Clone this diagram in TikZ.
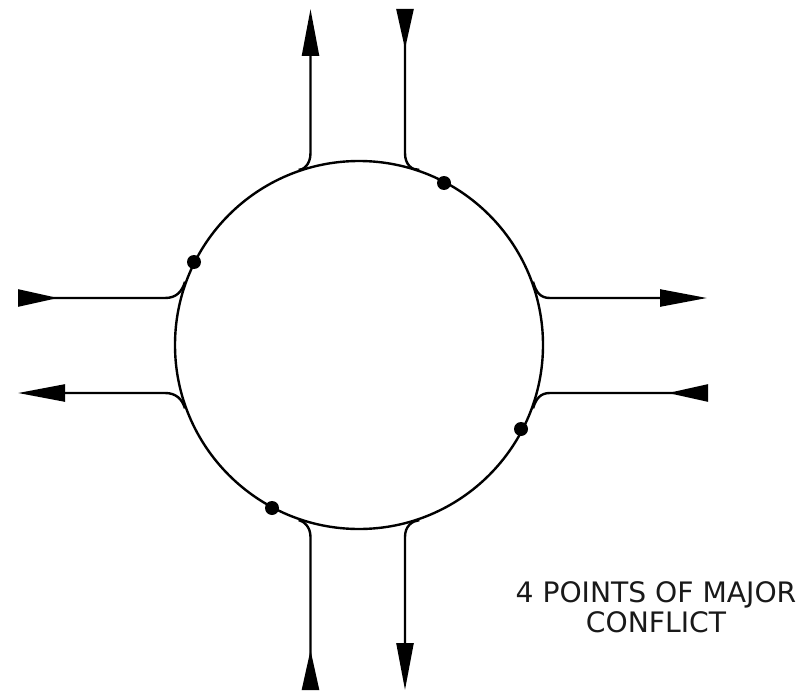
\documentclass[tikz,border=0pt]{standalone}
\usepackage{fontspec}
\setmainfont{DejaVu Sans}
\usetikzlibrary{arrows.meta}
\tikzset{
 x=1pt,y=-1pt,
 road/.style={line width=2.4pt,color=black},
 outarrow/.style={road,-{Triangle[length=47pt,width=17pt]}},
 inarrow/.style={road,{Triangle[reversed,length=40pt,width=17pt]}-},
 ringnode/.style={circle,draw=black,line width=2.4pt,minimum size=368pt,inner sep=0pt},
 conflict/.style={circle,fill=black,minimum size=14pt,inner sep=0pt},
 caption/.style={font=\fontsize{28.2pt}{30pt}\selectfont,align=center,text=black!90,inner sep=0pt}
}
\begin{document}
\begin{tikzpicture}
\useasboundingbox (0,0) rectangle (809,693);
\node[ringnode] (ring) at (359,345) {};
% free ends
\coordinate (nOut) at (310.5,9);
\coordinate (nIn) at (405,9);
\coordinate (sIn) at (310.5,690);
\coordinate (sOut) at (405,690);
\coordinate (wIn) at (18,298);
\coordinate (wOut) at (18,393);
\coordinate (eOut) at (707,298);
\coordinate (eIn) at (708,393);
% bends
\coordinate (nOutB) at (310.5,153);
\coordinate (nInB) at (405,153);
\coordinate (sInB) at (310.5,537);
\coordinate (sOutB) at (405,537);
\coordinate (wInB) at (165,298);
\coordinate (wOutB) at (165,393);
\coordinate (eOutB) at (550,298);
\coordinate (eInB) at (550,393);
% roads
\draw[outarrow] (ring.109) .. controls (303,170) and (310.5,165) .. (nOutB) -- (nOut);
\draw[inarrow] (nIn) -- (nInB) .. controls (405,165) and (412,170) .. (ring.71);
\draw[inarrow] (sIn) -- (sInB) .. controls (310.5,526) and (303,521) .. (ring.251);
\draw[outarrow] (ring.289) .. controls (412,521) and (405,526) .. (sOutB) -- (sOut);
\draw[inarrow] (wIn) -- (wInB) .. controls (176,298) and (182,292) .. (ring.160);
\draw[outarrow] (ring.200) .. controls (182,399) and (176,393) .. (wOutB) -- (wOut);
\draw[outarrow] (ring.20) .. controls (536,292) and (540,298) .. (eOutB) -- (eOut);
\draw[inarrow] (eIn) -- (eInB) .. controls (540,393) and (536,399) .. (ring.-20);
% conflict points
\node[conflict] (c1) at (444,183) {};
\node[conflict] (c2) at (194,262) {};
\node[conflict] (c3) at (521,429) {};
\node[conflict] (c4) at (272,508) {};
\node[caption] (label) at (656,607) {4 POINTS OF MAJOR\\CONFLICT};
\end{tikzpicture}
\end{document}
